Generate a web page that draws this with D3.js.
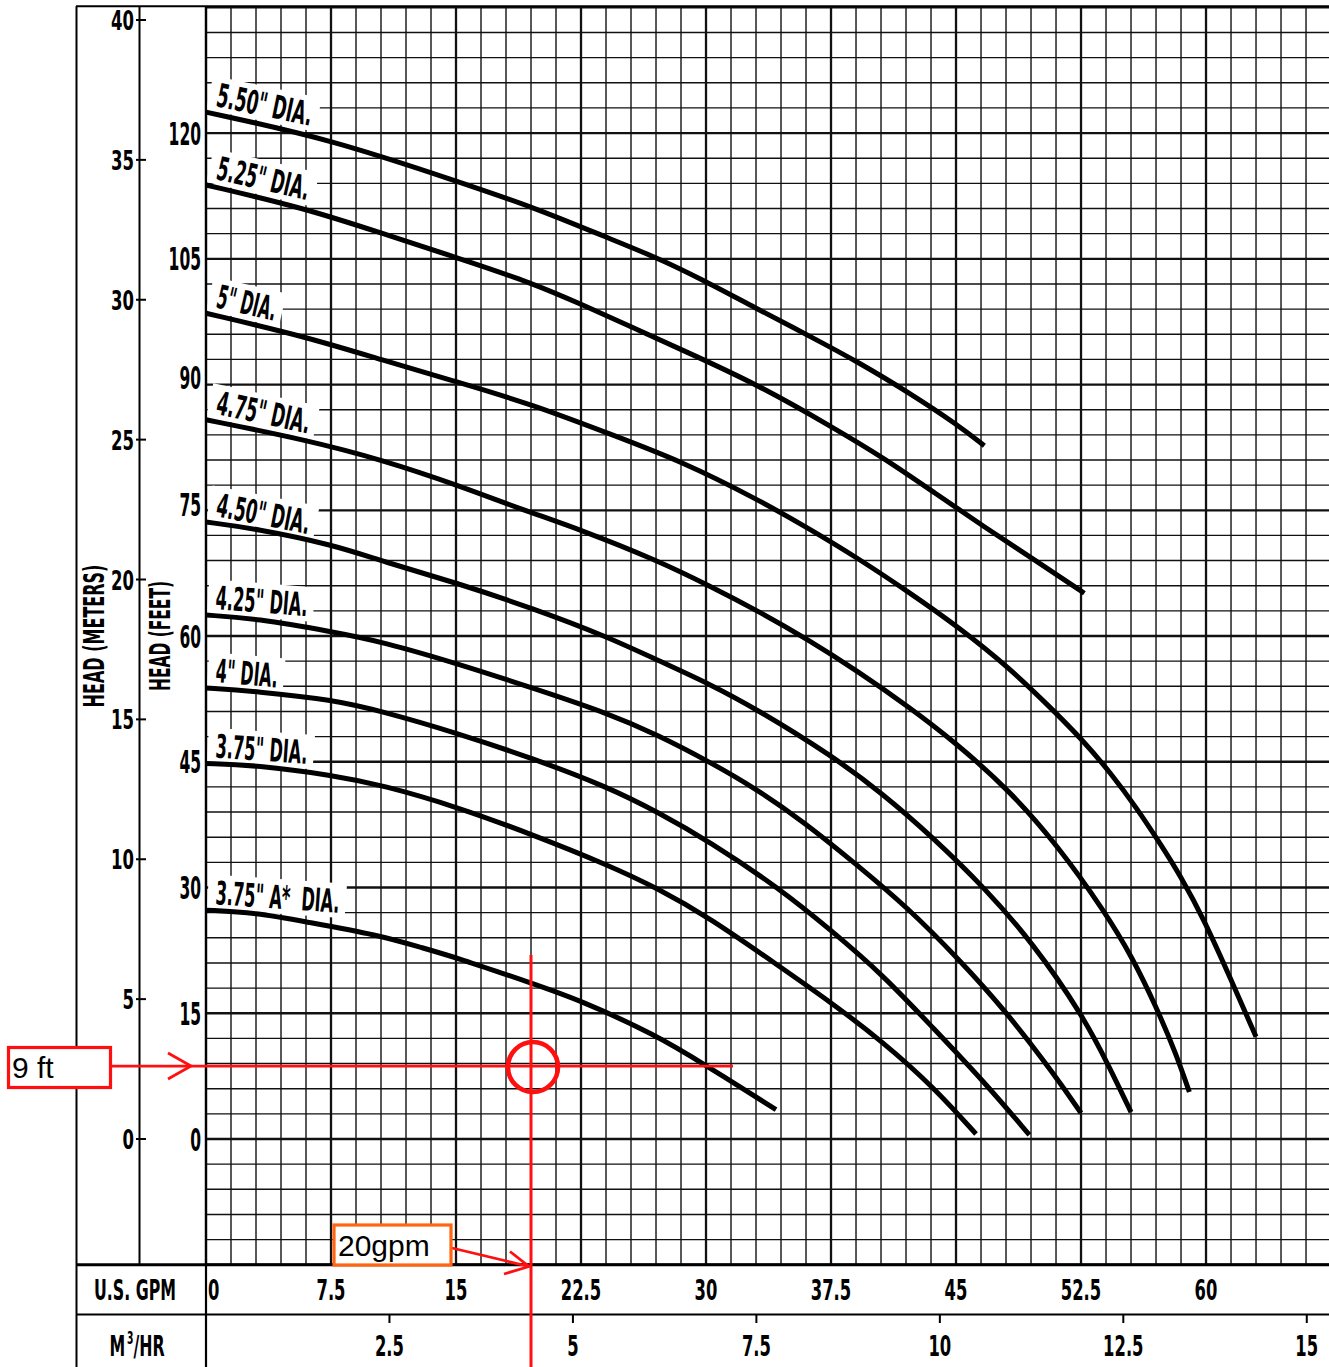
<!DOCTYPE html>
<html><head><meta charset="utf-8">
<script src="https://cdn.jsdelivr.net/npm/d3@7"></script>
<style>html,body{margin:0;padding:0;background:#fff;} svg{display:block;}</style>
</head><body><svg id="c" width="1329" height="1367"></svg>
<script>
// ---------------- DATA ----------------
const gpmTicks = [0, 7.5, 15, 22.5, 30, 37.5, 45, 52.5, 60];
const gpmTickLabels = ["0", "7.5", "15", "22.5", "30", "37.5", "45", "52.5", "60"];
const m3hrTicks = [2.5, 5, 7.5, 10, 12.5, 15];
const m3hrTickLabels = ["2.5", "5", "7.5", "10", "12.5", "15"];
const meterTicks = [0, 5, 10, 15, 20, 25, 30, 35, 40];
const feetTicks = [0, 15, 30, 45, 60, 75, 90, 105, 120];
const curveNames = ['5.50" DIA.', '5.25" DIA.', '5" DIA.', '4.75" DIA.', '4.50" DIA.', '4.25" DIA.', '4" DIA.', '3.75" DIA.', '3.75" A*  DIA.'];
// [gpm, head ft]
const curve550 = [[0,122.5],[7.6,119.2],[15.1,114.2],[19.6,111.2],[24.1,107.5],[27.1,105.1],[29.6,102.7],[33.0,99.1],[36.1,95.9],[39.3,92.5],[42.2,89.0],[45.1,85.2],[46.7,82.7]];
const curve525 = [[0,113.8],[6.0,111.0],[10.6,108.0],[15.1,105.1],[19.6,102.1],[22.6,99.5],[25.6,96.8],[28.6,94.1],[33.1,90.0],[37.6,84.9],[40.7,81.2],[43.7,77.1],[46.7,73.0],[49.7,69.1],[52.7,65.1]];
const curve500 = [[0,98.5],[6.0,95.7],[10.6,92.9],[15.1,90.3],[19.6,87.6],[24.1,84.2],[28.6,80.8],[33.1,76.3],[36.1,72.9],[39.1,69.3],[42.2,65.2],[45.2,61.0],[48.2,56.2],[50.6,51.6],[52.6,47.6],[54.3,43.6],[55.8,39.6],[57.2,35.4],[58.5,31.3],[59.9,26.1],[61.5,19.0],[63.0,12.2]];
const curve475 = [[0,85.8],[6.0,83.4],[10.6,81.0],[15.1,78.0],[18.8,75.2],[22.6,72.6],[27.1,69.0],[30.2,66.0],[33.1,63.0],[36.1,59.6],[39.1,55.8],[42.2,51.5],[44.9,47.4],[48.2,41.6],[51.1,35.0],[53.9,27.2],[55.6,21.6],[57.0,15.8],[58.2,10.2],[59.0,5.6]];
const curve450 = [[0,73.6],[3.0,72.8],[7.6,70.9],[10.6,68.9],[15.1,66.3],[19.6,63.3],[24.1,59.9],[27.1,57.1],[30.2,54.3],[33.1,51.2],[37.5,45.8],[40.6,41.2],[43.6,36.0],[46.7,30.0],[49.6,23.4],[52.6,14.8],[54.3,8.2],[55.5,3.2]];
const curve425 = [[0,62.5],[3.0,62.1],[7.6,60.5],[10.6,59.3],[15.1,56.7],[19.6,53.8],[24.1,50.8],[27.1,48.2],[30.2,45.0],[32.9,41.9],[35.9,37.8],[39.0,32.8],[42.1,27.6],[45.1,21.6],[48.1,15.0],[51.0,7.4],[52.5,3.1]];
const curve400 = [[0,53.8],[3.0,53.4],[7.6,52.4],[10.6,51.0],[15.1,48.4],[19.6,45.4],[24.1,42.0],[27.1,39.0],[30.2,35.5],[34.4,29.9],[37.5,24.9],[40.6,19.6],[43.6,13.3],[46.7,6.8],[49.4,0.5]];
const curve375 = [[0,44.8],[3.0,44.6],[7.6,43.4],[10.6,42.2],[15.1,39.6],[19.6,36.3],[24.1,32.7],[27.1,29.9],[30.2,26.4],[34.4,20.6],[37.5,16.3],[40.6,11.6],[43.6,6.3],[46.2,0.6]];
const curve375A = [[0,27.3],[3.0,27.0],[6.0,25.9],[10.4,24.3],[12.8,22.9],[15.1,21.6],[19.5,18.6],[22.4,16.6],[27.0,12.4],[29.9,8.9],[34.2,3.5]];
const curves = [curve550, curve525, curve500, curve475, curve450, curve425, curve400, curve375, curve375A];
const annotFlowGpm = 19.5;   // red vertical marker
const annotHeadFt = 8.7;     // red horizontal marker
const annotFtLabel = "9 ft";
const annotGpmLabel = "20gpm";
const GPM_PER_M3HR = 4.403;

// ---------------- STYLE / LAYOUT ----------------
const FONT = "'Liberation Sans Narrow','DejaVu Sans Condensed','Liberation Sans',Arial,sans-serif";
const AFONT = "'Liberation Sans',Arial,sans-serif";
const labelAngles = [11.7, 13, 13, 12, 11, 4.5, 5, 4, 4];
const labelWidths = [95, 92, 59, 93, 93, 92, 62, 92, 124];
const feetLabelDy = {90: -7, 75: -6};

const svg = d3.select('#c');
svg.append('rect').attr('width', 1329).attr('height', 1367).attr('fill', '#fff');

const x = d3.scaleLinear().domain([0, 67.5]).range([206, 206 + 67.5 * 16.667]);
const yFt = d3.scaleLinear().domain([-15, 135]).range([1139 + 15 * 8.383, 1139 - 135 * 8.383]);
const yM = d3.scaleLinear().domain([0, 40]).range([1139, 20]);
const xM3 = v => x(v * GPM_PER_M3HR);

const plotL = x(0), plotR = 1329, plotT = yFt(135), plotB = yFt(-15);

function natWidth(str, fs, weight, family) {
  const t = svg.append('text').attr('font-family', family || FONT).attr('font-size', fs)
    .attr('font-weight', weight || 'bold').style('white-space', 'pre').text(str);
  const w = t.node().getComputedTextLength(); t.remove(); return w;
}
function ctext(parent, px, py, str, fs, sx, sy, anchor) {
  return parent.append('text')
    .attr('transform', `translate(${px},${py}) scale(${sx},${sy})`)
    .attr('font-family', FONT).attr('font-size', fs).attr('font-weight', 'bold')
    .attr('text-anchor', anchor || 'middle').attr('fill', '#000').style('white-space', 'pre').text(str);
}

// ---------------- GRID ----------------
const grid = svg.append('g');
const vLines = d3.range(0, 67.5 + 0.001, 1.5);
grid.selectAll('line.v').data(vLines).join('line')
  .attr('x1', d => x(d)).attr('x2', d => x(d)).attr('y1', plotT).attr('y2', plotB)
  .attr('stroke', '#111').attr('stroke-width', (d, i) => i % 5 === 0 ? 2.3 : 1.4);
const hLines = d3.range(-15, 135 + 0.001, 3);
grid.selectAll('line.h').data(hLines).join('line')
  .attr('x1', plotL).attr('x2', plotR).attr('y1', d => yFt(d)).attr('y2', d => yFt(d))
  .attr('stroke', '#111').attr('stroke-width', d => (Math.round(d) % 15 === 0) ? 2.3 : 1.4);

// ---------------- CURVE LABEL BACKGROUNDS ----------------
const LFS = 31, LSY = 1.05;
const capH = 0.72 * LFS * LSY;
const labelGroups = curves.map((c, i) => svg.append('g')
  .attr('transform', `translate(215,${yFt(c[0][1]) - 6}) rotate(${labelAngles[i]})`));
labelGroups.forEach((g, i) => {
  const L = labelWidths[i] / Math.cos(labelAngles[i] * Math.PI / 180);
  g.append('rect').attr('x', -8).attr('y', -capH - 6).attr('width', L + 14).attr('height', capH + 11).attr('fill', '#fff');
});

// ---------------- CURVES ----------------
const line = d3.line().x(d => x(d[0])).y(d => yFt(d[1])).curve(d3.curveBasis);
svg.append('g').selectAll('path').data(curves).join('path')
  .attr('d', line).attr('fill', 'none').attr('stroke', '#000').attr('stroke-width', 5)
  .attr('stroke-linecap', 'butt');

// curve label texts
labelGroups.forEach((g, i) => {
  const L = labelWidths[i] / Math.cos(labelAngles[i] * Math.PI / 180);
  const sx = L / natWidth(curveNames[i], LFS);
  ctext(g, 0, 0, curveNames[i], LFS, sx, LSY, 'start');
});

// ---------------- FRAME ----------------
const frame = svg.append('g').attr('stroke', '#000').attr('fill', 'none');
frame.append('line').attr('x1', 76.5).attr('x2', 76.5).attr('y1', plotT - 1).attr('y2', 1367).attr('stroke-width', 2);
frame.append('line').attr('x1', 76).attr('x2', plotR).attr('y1', plotT - 1).attr('y2', plotT - 1).attr('stroke-width', 2);
frame.append('line').attr('x1', 139.5).attr('x2', 139.5).attr('y1', plotT - 1).attr('y2', plotB).attr('stroke-width', 2);
frame.append('line').attr('x1', plotL).attr('x2', plotL).attr('y1', plotT - 1).attr('y2', 1367).attr('stroke-width', 2.2);
frame.append('line').attr('x1', 76).attr('x2', plotR).attr('y1', plotB).attr('y2', plotB).attr('stroke-width', 3);
frame.append('line').attr('x1', 76).attr('x2', plotR).attr('y1', 1314.5).attr('y2', 1314.5).attr('stroke-width', 2);

// ---------------- METER AXIS ----------------
const mAxis = svg.append('g');
mAxis.selectAll('line').data(meterTicks).join('line')
  .attr('x1', 136).attr('x2', 146).attr('y1', d => yM(d)).attr('y2', d => yM(d))
  .attr('stroke', '#000').attr('stroke-width', 2);
const mSx = 11.5 / natWidth('0', 27);
meterTicks.forEach(v => ctext(mAxis, 134, yM(v) + 10, String(v), 27, mSx, 1.0, 'end'));

// ---------------- FEET AXIS LABELS ----------------
const fAxis = svg.append('g');
const fSx = 10.8 / natWidth('0', 32);
feetTicks.forEach(v => ctext(fAxis, 201, yFt(v) + 11.5 + (feetLabelDy[v] || 0), String(v), 32, fSx, 1.02, 'end'));

// axis titles
const tFS = 29;
const t1 = svg.append('g').attr('transform', 'translate(104,636) rotate(-90)');
ctext(t1, 0, 0, 'HEAD (METERS)', tFS, 143 / natWidth('HEAD (METERS)', tFS), 1.0, 'middle');
const t2 = svg.append('g').attr('transform', 'translate(170,636) rotate(-90)');
ctext(t2, 0, 0, 'HEAD (FEET)', tFS, 110 / natWidth('HEAD (FEET)', tFS), 1.0, 'middle');

// ---------------- BOTTOM AXES ----------------
const bAxis = svg.append('g');
const gSx = 11.4 / natWidth('0', 29);
gpmTicks.forEach((v, i) => {
  if (v === 0) ctext(bAxis, x(v) + 2, 1300, gpmTickLabels[i], 29, gSx, 1.0, 'start');
  else ctext(bAxis, x(v), 1300, gpmTickLabels[i], 29, gSx, 1.0, 'middle');
});
bAxis.selectAll('line.m3').data(m3hrTicks).join('line')
  .attr('x1', d => xM3(d)).attr('x2', d => xM3(d)).attr('y1', 1315).attr('y2', 1323)
  .attr('stroke', '#000').attr('stroke-width', 2);
m3hrTicks.forEach((v, i) => ctext(bAxis, xM3(v), 1356, m3hrTickLabels[i], 29, gSx, 1.0, 'middle'));

const lSx = 82 / natWidth('U.S. GPM', 29);
ctext(bAxis, 135, 1300, 'U.S. GPM', 29, lSx, 1.0, 'middle');
const mt = bAxis.append('text').attr('transform', `translate(137,1356) scale(${lSx},1)`)
  .attr('font-family', FONT).attr('font-size', 29).attr('font-weight', 'bold').attr('text-anchor', 'middle');
mt.append('tspan').text('M');
mt.append('tspan').attr('font-size', 17).attr('dy', -12).attr('dx', 3).text('3');
mt.append('tspan').attr('dy', 12).text('/HR');

// ---------------- ANNOTATIONS ----------------
const red = '#ff1010', orange = '#ff6512';
const an = svg.append('g');
const ay = yFt(annotHeadFt), ax = x(annotFlowGpm);
an.append('line').attr('x1', 110).attr('x2', 733).attr('y1', ay).attr('y2', ay).attr('stroke', red).attr('stroke-width', 2.8);
an.append('polyline').attr('points', `168,${ay - 13} 191,${ay} 168,${ay + 13}`).attr('fill', 'none').attr('stroke', red).attr('stroke-width', 2.8);
an.append('line').attr('x1', ax).attr('x2', ax).attr('y1', 955).attr('y2', 1367).attr('stroke', red).attr('stroke-width', 3);
an.append('circle').attr('cx', ax + 2).attr('cy', ay + 1).attr('r', 25).attr('fill', 'none').attr('stroke', red).attr('stroke-width', 4.6);
an.append('rect').attr('x', 8.5).attr('y', 1047.5).attr('width', 102).attr('height', 40).attr('fill', '#fff').attr('stroke', red).attr('stroke-width', 3.2);
an.append('text').attr('x', 12).attr('y', 1078).attr('font-family', AFONT).attr('font-size', 30).attr('fill', '#000').text(annotFtLabel);
an.append('line').attr('x1', 452).attr('x2', ax - 2).attr('y1', 1248).attr('y2', 1266.5).attr('stroke', red).attr('stroke-width', 2.8);
an.append('polyline').attr('points', `510,1251.5 ${ax - 2},1266.5 504,1274`).attr('fill', 'none').attr('stroke', red).attr('stroke-width', 2.8);
an.append('rect').attr('x', 334).attr('y', 1225).attr('width', 117).attr('height', 40).attr('fill', '#fff').attr('stroke', orange).attr('stroke-width', 3.2);
an.append('text').attr('x', 338).attr('y', 1256).attr('font-family', AFONT).attr('font-size', 30).attr('fill', '#000').text(annotGpmLabel);
</script></body></html>
